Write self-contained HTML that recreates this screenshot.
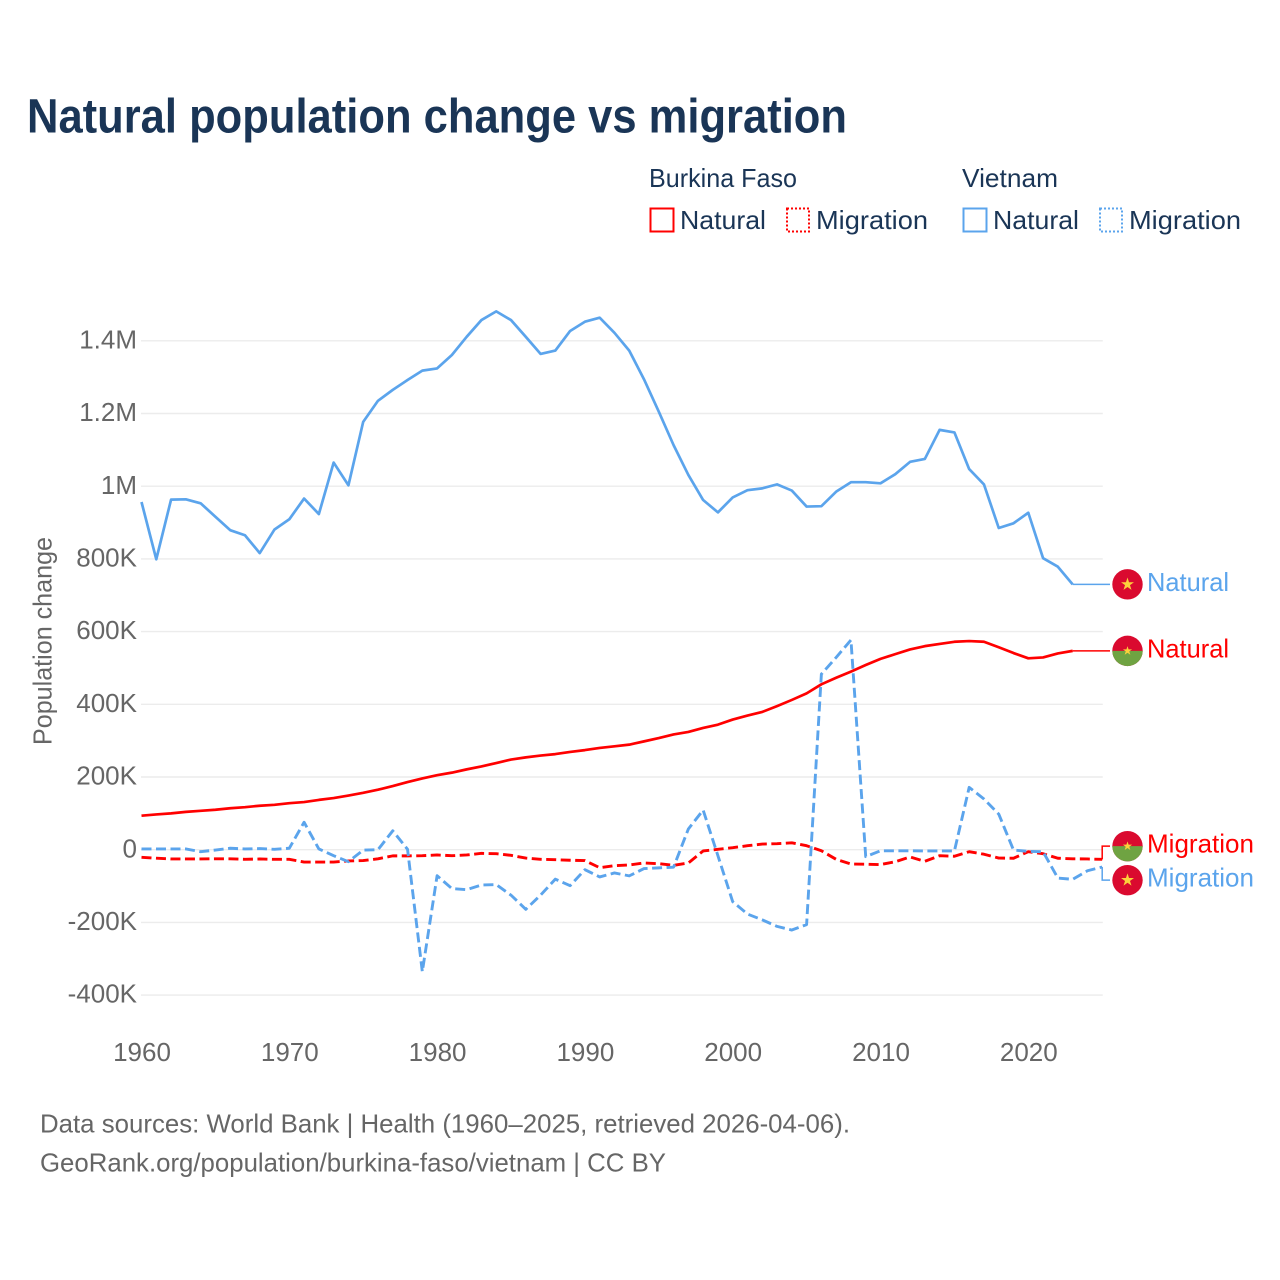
<!DOCTYPE html>
<html lang="en">
<head>
<meta charset="utf-8">
<title>Natural population change vs migration</title>
<style>
  html, body { margin: 0; padding: 0; background: #fff; }
  svg { display: block; }
  text { font-family: "Liberation Sans", sans-serif; }
  .tick { font-size: 26px; fill: #666; }
  .legend { font-size: 26px; fill: #1a3556; }
  .foot { font-size: 26px; fill: #666; }
</style>
</head>
<body>
<svg id="chart" xmlns="http://www.w3.org/2000/svg" width="1280" height="1280" viewBox="0 0 1280 1280">
  <rect width="1280" height="1280" fill="#fff"/>
  <text x="27" y="132.7" font-size="48" font-weight="700" fill="#1a3556" textLength="820" lengthAdjust="spacingAndGlyphs">Natural population change vs migration</text>

  <g>
    <text class="legend" x="649" y="187" textLength="148" lengthAdjust="spacingAndGlyphs">Burkina Faso</text>
    <text class="legend" x="962" y="187" textLength="96" lengthAdjust="spacingAndGlyphs">Vietnam</text>

    <rect x="650.5" y="208.5" width="23" height="23" fill="none" stroke="#ff0000" stroke-width="2"/>
    <text class="legend" x="680" y="229" textLength="86" lengthAdjust="spacingAndGlyphs">Natural</text>
    <rect x="787" y="208.5" width="22" height="23" fill="none" stroke="#ff0000" stroke-width="2" stroke-dasharray="2 2"/>
    <text class="legend" x="816" y="229" textLength="112" lengthAdjust="spacingAndGlyphs">Migration</text>

    <rect x="963.5" y="208.5" width="23" height="23" fill="none" stroke="#5ba4ec" stroke-width="2"/>
    <text class="legend" x="993" y="229" textLength="86" lengthAdjust="spacingAndGlyphs">Natural</text>
    <rect x="1100" y="208.5" width="22" height="23" fill="none" stroke="#5ba4ec" stroke-width="2" stroke-dasharray="2 2"/>
    <text class="legend" x="1129" y="229" textLength="112" lengthAdjust="spacingAndGlyphs">Migration</text>
  </g>

  <text class="tick" transform="translate(51.5 745) rotate(-90)" textLength="208" lengthAdjust="spacingAndGlyphs">Population change</text>

  <g id="grid"></g>
  <g id="y-ticks"></g>
  <g id="x-ticks"></g>
  <g id="series"></g>
  <g id="labels"></g>

  <text class="foot" x="40" y="1132.5" textLength="810" lengthAdjust="spacingAndGlyphs">Data sources: World Bank | Health (1960–2025, retrieved 2026-04-06).</text>
  <text class="foot" x="40" y="1171.7" textLength="626" lengthAdjust="spacingAndGlyphs">GeoRank.org/population/burkina-faso/vietnam | CC BY</text>
</svg>

<script>
const startYear = 1960;
const yTickValues = [-400000, -200000, 0, 200000, 400000, 600000, 800000, 1000000, 1200000, 1400000];
const yTickLabels = ['-400K', '-200K', '0', '200K', '400K', '600K', '800K', '1M', '1.2M', '1.4M'];
const xTickYears = [1960, 1970, 1980, 1990, 2000, 2010, 2020];

// Values in thousands of people, one per year from 1960.
const vietnamNatural = [956.5, 799, 963, 964, 953, 916, 879, 865, 816, 881, 909, 966, 923.5, 1065, 1002.5, 1177, 1235, 1265, 1292, 1318, 1324, 1361, 1411, 1457, 1481, 1457, 1411, 1364, 1373, 1427, 1452.5, 1463.5, 1422, 1373, 1294, 1205, 1113, 1031, 962, 928, 969, 989, 994, 1005, 988, 944, 945, 985, 1011, 1011, 1008, 1033, 1067, 1075, 1155, 1148, 1047, 1005, 885, 898, 927, 802, 778.5, 730];
const burkinaNatural = [93.5, 97, 100, 104, 107, 110, 114, 117, 121, 123.5, 128, 131, 137, 142, 149, 156.5, 165, 175, 186, 196, 205, 212, 221, 229, 238.5, 248, 254, 259, 263, 269, 274, 280, 284.5, 289, 298, 307, 317, 324, 335, 344, 358, 369, 379, 395, 412, 430, 455, 473, 490, 508, 525, 538, 551, 560, 566, 572, 574, 572, 557, 541, 526.5, 529, 540, 547];
const burkinaMigration = [-21, -23.5, -25.5, -25.5, -25.5, -25, -25, -26.5, -25.5, -26.5, -26.5, -34, -34, -34, -31, -30, -25, -17, -17, -16.5, -14.5, -16.5, -14.5, -10, -11, -15.5, -23, -26.5, -27.5, -29, -30, -49.5, -44, -42, -36.5, -38.5, -43, -36.5, -3.5, 1, 5.5, 11, 15.5, 16.5, 19, 11, -3, -26.5, -39.5, -40, -41, -33, -20, -32, -16.5, -18, -5.5, -12.5, -23, -23.5, -5.5, -11, -23.5, -25, -25.5, -26.5];
const vietnamMigration = [2, 2, 2, 2, -5.5, -1, 4, 2, 3, 1, 4, 75.5, 2, -16.5, -33, -1, 0, 52, 1, -335.5, -71.5, -107, -110, -97, -96, -125, -164, -125, -81, -99, -55, -75, -64, -72, -52, -50, -48, 57, 109, -16.5, -143, -177, -193, -211, -221, -206, 483, 529, 577, -19, -3, -3, -3, -3.5, -3.5, -3.5, 171.5, 139.5, 98, -1, -4.5, -5.5, -78, -81.5, -58, -47.5];

const RED = '#ff0000';
const BLUE = '#5ba4ec';
const NS = 'http://www.w3.org/2000/svg';
const xScale = year => 141.5 + (year - startYear) * 14.78;
const yScale = value => 849.7 - (value / 1000) * 0.3635;
const yScaleK = k => yScale(k * 1000);

function make(tag, attrs, parent) {
  const el = document.createElementNS(NS, tag);
  for (const k in attrs) el.setAttribute(k, attrs[k]);
  parent.appendChild(el);
  return el;
}

const plotRight = xScale(2025) + 0.6;
const gridGroup = document.getElementById('grid');
const yTickGroup = document.getElementById('y-ticks');
yTickValues.forEach((v, i) => {
  const y = yScale(v);
  const line = make('line', { x1: 141, x2: plotRight, y1: y, y2: y, stroke: '#ececec', 'stroke-width': 1.4 }, gridGroup);
  
  
  const label = make('text', { class: 'tick', x: 137, y: y + 7.6, 'text-anchor': 'end' }, yTickGroup);
  
  
  label.textContent = yTickLabels[i];
});

const xTickGroup = document.getElementById('x-ticks');
xTickYears.forEach(year => {
  const label = make('text', { class: 'tick', x: xScale(year) + 0.5, y: 1061, 'text-anchor': 'middle' }, xTickGroup);
  
  
  label.textContent = year;
});

const seriesGroup = document.getElementById('series');
function drawLine(values, color, dashed, name) {
  const pts = values.map((k, i) => xScale(startYear + i).toFixed(2) + ',' + yScaleK(k).toFixed(2)).join(' ');
  const attrs = { points: pts, fill: 'none', stroke: color, 'stroke-width': dashed ? 2.9 : 2.7, 'stroke-linejoin': 'round' };
  if (dashed) attrs['stroke-dasharray'] = '10 4.5';
  const line = make('polyline', attrs, seriesGroup);
  
  
}
drawLine(vietnamNatural, BLUE, false, 'line-vietnam-natural');
drawLine(burkinaNatural, RED, false, 'line-burkina-natural');
drawLine(burkinaMigration, RED, true, 'line-burkina-migration');
drawLine(vietnamMigration, BLUE, true, 'line-vietnam-migration');

const STAR = '0,-1 .2245,-.309 .951,-.309 .363,.118 .588,.809 0,.382 -.588,.809 -.363,.118 -.951,-.309 -.2245,-.309';
const labelGroup = document.getElementById('labels');
const FLAG_X = 1127.5;

function drawFlag(kind, cy, name) {
  const g = make('g', { transform: 'translate(' + FLAG_X + ' ' + cy + ')' }, labelGroup);
  
  
  make('circle', { r: 15.2, fill: '#da0a2f' }, g);
  if (kind === 'bf') {
    make('path', { d: 'M-15.2 0A15.2 15.2 0 0 0 15.2 0Z', fill: '#6fa342' }, g);
    make('polygon', { points: STAR, fill: '#fcd13c', transform: 'scale(4.8)' }, g);
  } else {
    make('polygon', { points: STAR, fill: '#fcd13c', transform: 'scale(6.8)' }, g);
  }
}

function drawEndLabel(text, color, kind, cy, name) {
  drawFlag(kind, cy, 'flag-' + name);
  const attrs = { x: 1147, y: cy + 6.5, fill: color, 'font-size': 26, textLength: text === 'Natural' ? 82 : 107, lengthAdjust: 'spacingAndGlyphs' };
  const t = make('text', attrs, labelGroup);
  
  
  t.textContent = text;
}

function drawConnector(points, color, name) {
  const c = make('polyline', { points: points.map(p => p.join(',')).join(' '), fill: 'none', stroke: color, 'stroke-width': 1.5 }, labelGroup);
  
  
}

function lastOf(a) { return a[a.length - 1]; }
function lastX(a) { return xScale(startYear + a.length - 1); }

// Natural labels sit level with their last value.
const vnNatY = yScaleK(lastOf(vietnamNatural));
const bfNatY = yScaleK(lastOf(burkinaNatural));
drawConnector([[lastX(vietnamNatural), vnNatY], [1110, vnNatY]], BLUE, 'connector-vietnam-natural');
drawConnector([[lastX(burkinaNatural), bfNatY], [1110, bfNatY]], RED, 'connector-burkina-natural');

// Migration labels are pushed apart around the midpoint of their last values.
const bfMigEnd = yScaleK(lastOf(burkinaMigration));
const vnMigEnd = yScaleK(lastOf(vietnamMigration));
const migMid = (bfMigEnd + vnMigEnd) / 2;
const bfOnTop = bfMigEnd <= vnMigEnd;
const bfMigY = migMid + (bfOnTop ? -17 : 17);
const vnMigY = migMid + (bfOnTop ? 17 : -17);
const elbowX = lastX(burkinaMigration);
drawConnector([[elbowX, bfMigEnd], [elbowX, bfMigY], [1110, bfMigY]], RED, 'connector-burkina-migration');
drawConnector([[elbowX, vnMigEnd], [elbowX, vnMigY], [1110, vnMigY]], BLUE, 'connector-vietnam-migration');

drawEndLabel('Natural', BLUE, 'vn', vnNatY, 'vietnam-natural');
drawEndLabel('Natural', RED, 'bf', bfNatY, 'burkina-natural');
drawEndLabel('Migration', RED, 'bf', bfMigY, 'burkina-migration');
drawEndLabel('Migration', BLUE, 'vn', vnMigY, 'vietnam-migration');
</script>
</body>
</html>
